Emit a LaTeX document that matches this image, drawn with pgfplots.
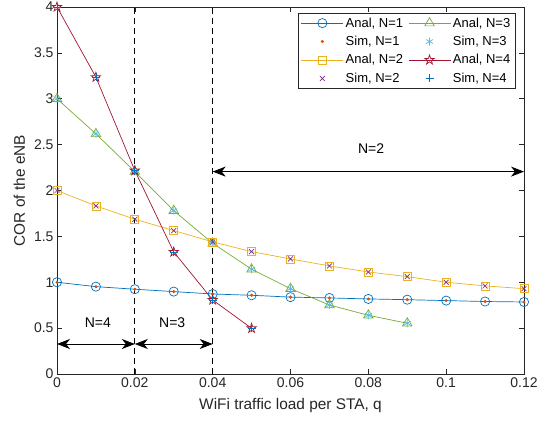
\documentclass[border=0pt]{standalone}
\usepackage{fontspec}
\setmainfont{Liberation Sans}
\usepackage{pgfplots}
\pgfplotsset{compat=1.18}
\usetikzlibrary{arrows.meta}
\definecolor{mblue}{rgb}{0,0.447,0.741}
\definecolor{morange}{rgb}{0.85,0.325,0.098}
\definecolor{myellow}{rgb}{0.929,0.694,0.125}
\definecolor{mpurple}{rgb}{0.494,0.184,0.556}
\definecolor{mgreen}{rgb}{0.466,0.674,0.188}
\definecolor{mcyan}{rgb}{0.301,0.745,0.933}
\definecolor{mred}{rgb}{0.635,0.078,0.184}
\definecolor{axgray}{rgb}{0.15,0.15,0.15}
\pgfdeclareplotmark{pentagram}{%
  \pgfpathmoveto{\pgfpointpolar{90}{\pgfplotmarksize}}%
  \pgfpathlineto{\pgfpointpolar{126}{0.382\pgfplotmarksize}}%
  \pgfpathlineto{\pgfpointpolar{162}{\pgfplotmarksize}}%
  \pgfpathlineto{\pgfpointpolar{198}{0.382\pgfplotmarksize}}%
  \pgfpathlineto{\pgfpointpolar{234}{\pgfplotmarksize}}%
  \pgfpathlineto{\pgfpointpolar{270}{0.382\pgfplotmarksize}}%
  \pgfpathlineto{\pgfpointpolar{306}{\pgfplotmarksize}}%
  \pgfpathlineto{\pgfpointpolar{342}{0.382\pgfplotmarksize}}%
  \pgfpathlineto{\pgfpointpolar{18}{\pgfplotmarksize}}%
  \pgfpathlineto{\pgfpointpolar{54}{0.382\pgfplotmarksize}}%
  \pgfpathclose\pgfusepathqstroke}
\begin{document}
\begin{tikzpicture}
\path[use as bounding box] (-57pt,-51pt) rectangle (481pt,374pt);
\begin{axis}[at={(0,0)}, anchor=south west, scale only axis,
  width=467pt, height=367pt,
  xmin=0, xmax=0.12, ymin=0, ymax=4,
  xtick={0,0.02,0.04,0.06,0.08,0.1,0.12},
  xticklabels={0,0.02,0.04,0.06,0.08,0.1,0.12},
  ytick={0,0.5,1,1.5,2,2.5,3,3.5,4},
  yticklabels={0,0.5,1,1.5,2,2.5,3,3.5,4},
  tick align=inside, major tick length=5pt,
  tick style={color=axgray, line width=0.6pt},
  axis line style={color=axgray, line width=0.6pt},
  ticklabel style={font=\fontsize{14}{16}\selectfont, color=axgray},
  label style={font=\fontsize{15.4}{17}\selectfont, color=axgray},
  xlabel={WiFi traffic load per STA, q},
  ylabel={COR of the eNB},
  xlabel shift=4pt, ylabel shift=2pt,
  legend columns=2,
  legend cell align=left,
  legend style={at={(0.981,0.984)}, anchor=north east,
    font=\fontsize{13}{15}\selectfont, draw=axgray, line width=0.6pt,
    inner sep=2.5pt, row sep=3.5pt,
    /tikz/every even column/.append style={column sep=3pt}},
  legend image code/.code={\draw[mark repeat=2,mark phase=2,#1] plot coordinates {(0pt,0pt) (21pt,0pt) (42pt,0pt)};},
  every axis plot/.append style={line width=0.7pt},
]
% Anal N=1
\addplot[color=mblue, mark=o, mark size=4.6pt] coordinates {
(0,1.0) (0.01,0.952) (0.02,0.924) (0.03,0.898) (0.04,0.872) (0.05,0.858) (0.06,0.838) (0.07,0.829) (0.08,0.818) (0.09,0.81) (0.1,0.80) (0.11,0.79) (0.12,0.785)};
\addlegendentry{Anal, N=1}
% Anal N=3
\addplot[color=mgreen, mark=triangle, mark size=5.5pt] coordinates {
(0,3.0) (0.01,2.617) (0.02,2.206) (0.03,1.78) (0.04,1.425) (0.05,1.142) (0.06,0.93) (0.07,0.752) (0.08,0.64) (0.09,0.553)};
\addlegendentry{Anal, N=3}
% Sim N=1
\addplot[only marks, color=morange, mark=*, mark size=1.2pt] coordinates {
(0,1.0) (0.01,0.952) (0.02,0.924) (0.03,0.898) (0.04,0.872) (0.05,0.858) (0.06,0.838) (0.07,0.829) (0.08,0.818) (0.09,0.81) (0.1,0.80) (0.11,0.79) (0.12,0.785)};
\addlegendentry{Sim, N=1}
% Sim N=3
\addplot[only marks, color=mcyan, mark=asterisk, mark size=4pt] coordinates {
(0,3.0) (0.01,2.617) (0.02,2.206) (0.03,1.78) (0.04,1.425) (0.05,1.142) (0.06,0.93) (0.07,0.752) (0.08,0.64) (0.09,0.553)};
\addlegendentry{Sim, N=3}
% Anal N=2
\addplot[color=myellow, mark=square, mark size=4pt] coordinates {
(0,2.0) (0.01,1.832) (0.02,1.687) (0.03,1.563) (0.04,1.44) (0.05,1.334) (0.06,1.254) (0.07,1.178) (0.08,1.112) (0.09,1.061) (0.1,1.0) (0.11,0.96) (0.12,0.93)};
\addlegendentry{Anal, N=2}
% Anal N=4
\addplot[color=mred, mark=pentagram, mark size=5pt] coordinates {
(0,4.0) (0.01,3.235) (0.02,2.217) (0.03,1.33) (0.04,0.807) (0.05,0.498)};
\addlegendentry{Anal, N=4}
% Sim N=2
\addplot[only marks, color=mpurple, mark=x, mark size=3.5pt] coordinates {
(0,2.0) (0.01,1.832) (0.02,1.687) (0.03,1.563) (0.04,1.44) (0.05,1.334) (0.06,1.254) (0.07,1.178) (0.08,1.112) (0.09,1.061) (0.1,1.0) (0.11,0.96) (0.12,0.93)};
\addlegendentry{Sim, N=2}
% Sim N=4
\addplot[only marks, color=mblue, mark=+, mark size=4pt] coordinates {
(0,4.0) (0.01,3.235) (0.02,2.217) (0.03,1.33) (0.04,0.807) (0.05,0.498)};
\addlegendentry{Sim, N=4}
% dashed separators
\draw[black, line width=0.8pt, dash pattern=on 6pt off 4pt] (axis cs:0.02,0) -- (axis cs:0.02,4);
\draw[black, line width=0.8pt, dash pattern=on 6pt off 4pt] (axis cs:0.04,0) -- (axis cs:0.04,4);
% arrows
\draw[black, line width=0.8pt, {Stealth[length=13pt,width=10pt,inset=4pt]}-{Stealth[length=13pt,width=10pt,inset=4pt]}] (axis cs:0,0.327) -- (axis cs:0.02,0.327);
\draw[black, line width=0.8pt, {Stealth[length=13pt,width=10pt,inset=4pt]}-{Stealth[length=13pt,width=10pt,inset=4pt]}] (axis cs:0.02,0.327) -- (axis cs:0.04,0.327);
\draw[black, line width=0.8pt, {Stealth[length=13pt,width=10pt,inset=4pt]}-{Stealth[length=13pt,width=10pt,inset=4pt]}] (axis cs:0.04,2.206) -- (axis cs:0.12,2.206);
\node[font=\fontsize{14}{16}\selectfont] at (axis cs:0.0105,0.56) {N=4};
\node[font=\fontsize{14}{16}\selectfont] at (axis cs:0.0296,0.56) {N=3};
\node[font=\fontsize{14}{16}\selectfont] at (axis cs:0.0807,2.46) {N=2};
\end{axis}
\end{tikzpicture}
\end{document}
